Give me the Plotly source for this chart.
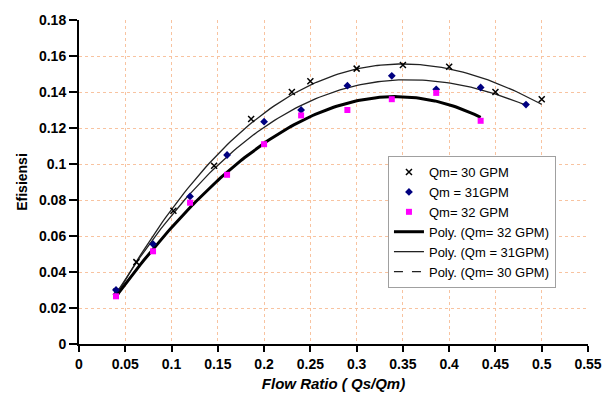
import numpy as np
import plotly.graph_objects as go

# Data
x_qm30 = [0.04, 0.062, 0.102, 0.146, 0.186, 0.23, 0.25, 0.30, 0.35, 0.40, 0.45, 0.50]
y_qm30 = [0.029, 0.0455, 0.074, 0.099, 0.125, 0.140, 0.146, 0.153, 0.155, 0.154, 0.140, 0.136]

x_qm31 = [0.04, 0.08, 0.12, 0.16, 0.20, 0.24, 0.29, 0.338, 0.386, 0.434, 0.483]
y_qm31 = [0.030, 0.0555, 0.082, 0.105, 0.1235, 0.130, 0.1435, 0.149, 0.1415, 0.1425, 0.133]

x_qm32 = [0.04, 0.08, 0.12, 0.16, 0.20, 0.24, 0.29, 0.338, 0.386, 0.434]
y_qm32 = [0.0265, 0.0515, 0.0785, 0.094, 0.111, 0.127, 0.130, 0.136, 0.1395, 0.124]

x_ticks = [0, 0.05, 0.1, 0.15, 0.2, 0.25, 0.3, 0.35, 0.4, 0.45, 0.5, 0.55]
x_ticktext = ["0", "0.05", "0.1", "0.15", "0.2", "0.25", "0.3", "0.35", "0.4", "0.45", "0.5", "0.55"]
y_ticks = [0, 0.02, 0.04, 0.06, 0.08, 0.1, 0.12, 0.14, 0.16, 0.18]
y_ticktext = ["0", "0.02", "0.04", "0.06", "0.08", "0.1", "0.12", "0.14", "0.16", "0.18"]

FIT_ORDER = 3


def trend(xs, ys):
    c = np.polyfit(xs, ys, FIT_ORDER)
    xx = np.linspace(min(xs), max(xs), 120)
    return xx, np.polyval(c, xx)


FONT = "Arial, Liberation Sans, sans-serif"
fig = go.Figure()

tx30, ty30 = trend(x_qm30, y_qm30)
tx31, ty31 = trend(x_qm31, y_qm31)
tx32, ty32 = trend(x_qm32, y_qm32)

fig.add_trace(go.Scatter(x=tx30, y=ty30, mode="lines", line=dict(color="#222222", width=1.3),
                         showlegend=False, hoverinfo="skip"))
fig.add_trace(go.Scatter(x=tx31, y=ty31, mode="lines", line=dict(color="#222222", width=1.3),
                         showlegend=False, hoverinfo="skip"))
fig.add_trace(go.Scatter(x=tx32, y=ty32, mode="lines", line=dict(color="black", width=3),
                         showlegend=False, hoverinfo="skip"))

fig.add_trace(go.Scatter(x=x_qm30, y=y_qm30, mode="markers", name="Qm= 30 GPM",
                         marker=dict(symbol="x-thin", size=6, color="black",
                                     line=dict(color="black", width=1.5))))
fig.add_trace(go.Scatter(x=x_qm31, y=y_qm31, mode="markers", name="Qm = 31GPM",
                         marker=dict(symbol="diamond", size=6, color="#000080")))
fig.add_trace(go.Scatter(x=x_qm32, y=y_qm32, mode="markers", name="Qm= 32 GPM",
                         marker=dict(symbol="square", size=6, color="#ff00ff")))

fig.add_trace(go.Scatter(x=[None], y=[None], mode="lines", name="Poly. (Qm= 32 GPM)",
                         line=dict(color="black", width=3)))
fig.add_trace(go.Scatter(x=[None], y=[None], mode="lines", name="Poly. (Qm = 31GPM)",
                         line=dict(color="#222222", width=1.3)))
fig.add_trace(go.Scatter(x=[None], y=[None], mode="lines", name="Poly. (Qm= 30 GPM)",
                         line=dict(color="#222222", width=1.3, dash="dash")))

grid_color = "#f8c3a0"
fig.update_xaxes(range=[0, 0.55], tickmode="array", tickvals=x_ticks, ticktext=x_ticktext,
                 showgrid=True, gridcolor=grid_color, griddash="dot", gridwidth=1,
                 showline=True, linecolor="black", linewidth=2, ticks="outside",
                 ticklen=6, tickwidth=2, tickcolor="black", zeroline=False,
                 tickfont=dict(family=FONT, size=14, color="black", weight="bold"),
                 title=dict(text="<b><i>Flow Ratio ( Qs/Qm)</i></b>",
                            font=dict(family=FONT, size=15, color="black"), standoff=8))
fig.update_yaxes(range=[0, 0.18], tickmode="array", tickvals=y_ticks, ticktext=y_ticktext,
                 showgrid=True, gridcolor=grid_color, griddash="dot", gridwidth=1,
                 showline=True, linecolor="black", linewidth=2, ticks="outside",
                 ticklen=8, tickwidth=2, tickcolor="black", zeroline=False,
                 tickfont=dict(family=FONT, size=14, color="black", weight="bold"),
                 title=dict(text="<b>Efisiensi</b>",
                            font=dict(family=FONT, size=14, color="black"), standoff=8))

fig.update_layout(
    width=614, height=410,
    margin=dict(l=79, r=18, t=15, b=66),
    plot_bgcolor="white", paper_bgcolor="white",
    font=dict(family=FONT, size=12, color="black"),
    legend=dict(x=0.607, y=0.58, xanchor="left", yanchor="top",
                bgcolor="white", bordercolor="#a0a0a0", borderwidth=1,
                font=dict(family=FONT, size=13, color="black"),
                tracegroupgap=0, itemwidth=30),
    showlegend=True,
)

fig.write_html("out.html")
